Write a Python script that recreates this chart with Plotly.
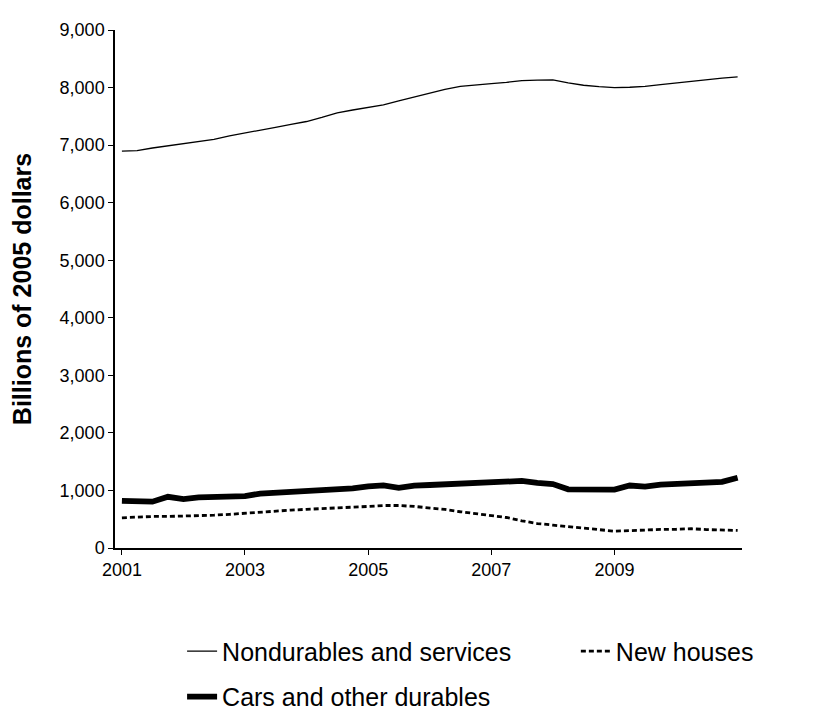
import plotly.graph_objects as go

quarters = [f"{y}-{m:02d}-01" for y in range(2001, 2012) for m in (1, 4, 7, 10)][:41]

nondurables = [6895, 6905, 6950, 6990, 7030, 7070, 7100, 7160, 7215, 7260,
               7310, 7360, 7410, 7480, 7560, 7610, 7650, 7700, 7770, 7840,
               7900, 7970, 8020, 8050, 8070, 8090, 8120, 8130, 8135, 8080,
               8040, 8015, 8000, 8005, 8020, 8050, 8080, 8110, 8140, 8165,
               8185]

new_houses = [525, 540, 548, 548, 552, 560, 570, 585, 605, 628,
              642, 658, 672, 682, 692, 702, 722, 738, 738, 722,
              700, 670, 630, 595, 560, 530, 472, 425, 398, 372,
              342, 312, 292, 302, 316, 322, 325, 335, 320, 310,
              305]

cars_durables = [820, 812, 805, 890, 850, 878, 890, 898, 902, 945,
                 960, 965, 970, 995, 1015, 1035, 1070, 1088, 1045, 1085,
                 1095, 1105, 1115, 1125, 1128, 1135, 1165, 1130, 1112, 1020,
                 1015, 1015, 1015, 1085, 1065, 1100, 1110, 1120, 1135, 1150,
                 1220]

year_ticks = ["2001-01-01", "2003-01-01", "2005-01-01", "2007-01-01", "2009-01-01"]
year_labels = ["2001", "2003", "2005", "2007", "2009"]

FONT = "Liberation Sans, Arial, sans-serif"

fig = go.Figure()
fig.add_trace(go.Scatter(
    x=quarters, y=nondurables, mode="lines", name="Nondurables and services",
    line=dict(color="black", width=1.3), legend="legend", legendgroup="a",
))
fig.add_trace(go.Scatter(
    x=quarters, y=new_houses, mode="lines", name="New houses",
    line=dict(color="black", width=2.8, dash="5px,3px"), legend="legend2",
))
fig.add_trace(go.Scatter(
    x=quarters, y=cars_durables, mode="lines", name="Cars and other durables",
    line=dict(color="black", width=5.8), legend="legend", legendgroup="b",
))

fig.update_layout(
    width=830, height=723,
    paper_bgcolor="white", plot_bgcolor="white",
    margin=dict(l=105, r=96, t=18, b=163),
    font=dict(family=FONT, size=18, color="black"),
    showlegend=True,
    legend=dict(
        x=0.107, xanchor="left", y=-0.155, yanchor="top",
        font=dict(size=25), tracegroupgap=10, traceorder="grouped",
    ),
    legend2=dict(
        x=0.735, xanchor="left", y=-0.155, yanchor="top",
        font=dict(size=25),
    ),
)
fig.update_xaxes(
    type="date", range=["2000-11-21", "2011-01-27"],
    tickvals=year_ticks, ticktext=year_labels,
    showline=True, linecolor="black", linewidth=1.5,
    ticks="outside", ticklen=5, tickcolor="black",
    showgrid=False, zeroline=False,
)
fig.update_yaxes(
    range=[0, 9000], dtick=1000, tickformat=",d",
    showline=True, linecolor="black", linewidth=1.5,
    ticks="outside", ticklen=5, tickcolor="black",
    showgrid=False, zeroline=False, ticklabeloverflow="allow",
    title=dict(text="<b>Billions of 2005 dollars</b>", font=dict(size=25), standoff=22),
)

fig.write_html("out.html")
